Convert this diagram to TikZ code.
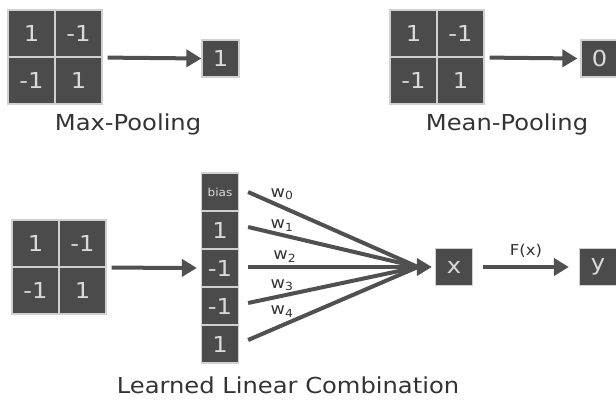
\documentclass[tikz,border=0pt]{standalone}
\usepackage{fontspec}
\setmainfont{DejaVu Sans}[FakeStretch=1.1]
\usepackage{tikz}
\usetikzlibrary{arrows.meta,positioning,calc}
\definecolor{boxgray}{HTML}{4B4B4B}
\definecolor{rulegray}{HTML}{D0D0D0}
\definecolor{inkgray}{HTML}{DADADA}
\definecolor{arrowgray}{HTML}{505050}
\definecolor{labelgray}{HTML}{333333}
\tikzset{
  cell/.style={fill=boxgray, draw=rulegray, line width=1.2pt, text=inkgray,
    minimum width=47pt, minimum height=47pt, inner sep=0pt, font=\fontsize{22}{22}\selectfont},
  outbox/.style={cell, minimum width=37pt, minimum height=37pt},
  colcell/.style={cell, minimum width=37pt, minimum height=38pt},
  caption/.style={text=labelgray, font=\fontsize{22}{22}\selectfont},
  weight/.style={text=labelgray, font=\fontsize{16}{16}\selectfont, inner sep=1pt},
  flow/.style={draw=arrowgray, line width=4pt, -{Triangle[length=15pt,width=17pt]}},
  spoke/.style={draw=arrowgray, line width=4pt},
}
\begin{document}
\begin{tikzpicture}[x=1pt, y=-1pt]
        \useasboundingbox (0,0) rectangle (616,401);

        % Max pooling
        \node[cell] (a11) at (31.5,33.5) {1};
        \node[cell] (a12) at (78.5,33.5) {-1};
        \node[cell] (a21) at (31.5,80.5) {-1};
        \node[cell] (a22) at (78.5,80.5) {1};
        \node[outbox] (amax) at (220.5,58.5) {1};
        \draw[flow] ($(a12.south east)+(5,0)$) -- (amax.west);
        \node[caption] (maxlab) at (128,124) {Max-Pooling};

        % Mean pooling
        \node[cell] (b11) at (413.5,33.5) {1};
        \node[cell] (b12) at (460.5,33.5) {-1};
        \node[cell] (b21) at (413.5,80.5) {-1};
        \node[cell] (b22) at (460.5,80.5) {1};
        \node[outbox] (bmean) at (599.5,58.5) {0};
        \draw[flow] ($(b12.south east)+(5,0)$) -- ($(bmean.west)+(-3,0)$);
        \node[caption] (meanlab) at (507,124) {Mean-Pooling};

        % Learned linear combination
        \node[cell] (c11) at (35.5,243.5) {1};
        \node[cell] (c12) at (82.5,243.5) {-1};
        \node[cell] (c21) at (35.5,290.5) {-1};
        \node[cell] (c22) at (82.5,290.5) {1};
        \node[colcell, font=\fontsize{11}{11}\selectfont] (v0) at (220,192) {bias};
        \node[colcell] (v1) at (220,230) {1};
        \node[colcell] (v2) at (220,268) {-1};
        \node[colcell] (v3) at (220,306) {-1};
        \node[colcell] (v4) at (220,344) {1};
        \draw[flow] ($(c12.south east)+(5,0)$) -- ($(v2.west)+(-4,0)$);

        \node[outbox] (xval) at (454,267) {x};
        \node[outbox] (yval) at (598,267) {y};
        \coordinate (meet) at ($(xval.west)+(-3,0)$);
        \coordinate (base) at ($(meet)+(-14,0)$);

        \draw[spoke] ($(v0.east)+(9,0)$) -- node[weight, pos=0.2, above=4pt] {w\textsubscript{0}} (base);
        \draw[spoke] ($(v1.east)+(9,-3)$) -- node[weight, pos=0.2, above=1pt] {w\textsubscript{1}} (base);
        \draw[flow] ($(v2.east)+(9,-1)$) -- node[weight, pos=0.2, above=2pt] {w\textsubscript{2}} (meet);
        \draw[spoke] ($(v3.east)+(9,-3)$) -- node[weight, pos=0.2, above=2pt] {w\textsubscript{3}} (base);
        \draw[spoke] ($(v4.east)+(9,-4)$) -- node[weight, pos=0.2, above=5pt] {w\textsubscript{4}} (base);

        \draw[flow] ($(xval.east)+(10,0)$) -- node[weight, above=7pt, font=\fontsize{15}{15}\selectfont] {F(x)} ($(yval.west)+(-10,0)$);
        \node[caption] (linlab) at (288,385) {Learned Linear Combination};
\end{tikzpicture}
\end{document}
